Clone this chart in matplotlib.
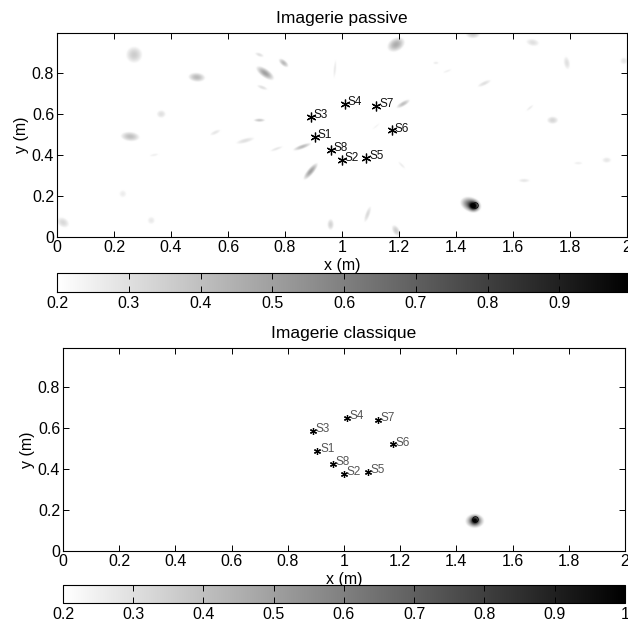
import numpy as np
import matplotlib
matplotlib.use("Agg")
import matplotlib.pyplot as plt
from matplotlib.ticker import FormatStrFormatter

plt.rcParams['font.family'] = ['Liberation Sans', 'DejaVu Sans']

# sensor positions (m)
sensor_names = ["S1", "S2", "S3", "S4", "S5", "S6", "S7", "S8"]
sensor_x = [0.905, 1.00, 0.89, 1.01, 1.085, 1.175, 1.12, 0.96]
sensor_y = [0.49, 0.375, 0.585, 0.65, 0.385, 0.52, 0.64, 0.425]

# source position
source_x = 1.465
source_y = 0.155

# passive imaging: spots
# (x, y, level, spread along, spread across, angle in degrees)
pass_x = [1.452, 1.463, 0.27, 0.49, 0.365, 0.256, 0.23, 0.02, 0.33, 0.555, 0.66, 0.34,
          1.19, 0.73, 0.795, 0.71, 0.72, 0.975, 0.71, 0.77, 0.86, 0.89, 1.215, 1.09,
          0.96, 1.19, 1.21, 1.33, 1.46, 1.67, 1.79, 1.99, 1.50, 1.37, 1.66, 1.74,
          1.93, 1.83, 1.64, 1.12, 1.10]
pass_y = [0.158, 0.15, 0.89, 0.78, 0.60, 0.49, 0.21, 0.07, 0.08, 0.51, 0.47, 0.40,
          0.94, 0.80, 0.85, 0.89, 0.73, 0.82, 0.57, 0.43, 0.44, 0.32, 0.65, 0.11,
          0.06, 0.03, 0.35, 0.85, 0.99, 0.95, 0.85, 0.86, 0.75, 0.81, 0.63, 0.57,
          0.375, 0.36, 0.275, 0.54, 0.39]
pass_lvl = [0.70, 0.60, 0.36, 0.42, 0.30, 0.40, 0.26, 0.32, 0.27, 0.28, 0.30, 0.25,
            0.46, 0.50, 0.42, 0.30, 0.30, 0.27, 0.38, 0.28, 0.42, 0.50, 0.40, 0.32,
            0.34, 0.36, 0.26, 0.26, 0.36, 0.30, 0.30, 0.28, 0.30, 0.25, 0.26, 0.33,
            0.28, 0.25, 0.28, 0.24, 0.24]
pass_sa = [0.025, 0.010, 0.028, 0.026, 0.019, 0.030, 0.019, 0.025, 0.018, 0.026, 0.039, 0.026,
           0.027, 0.029, 0.018, 0.019, 0.023, 0.043, 0.019, 0.030, 0.029, 0.029, 0.024, 0.032,
           0.020, 0.021, 0.025, 0.015, 0.024, 0.027, 0.027, 0.016, 0.030, 0.026, 0.024, 0.021,
           0.021, 0.025, 0.026, 0.030, 0.030]
pass_sc = [0.017, 0.010, 0.028, 0.014, 0.016, 0.015, 0.019, 0.018, 0.018, 0.009, 0.010, 0.008,
           0.019, 0.012, 0.009, 0.008, 0.008, 0.007, 0.006, 0.007, 0.007, 0.009, 0.008, 0.009,
           0.012, 0.012, 0.007, 0.008, 0.014, 0.015, 0.013, 0.016, 0.009, 0.007, 0.007, 0.014,
           0.013, 0.009, 0.009, 0.006, 0.006]
pass_ang = [-20, 0, 0, -5, 0, -5, 0, -30, 0, 25, 15, 10,
            30, -35, -40, -20, -20, 85, 0, 20, 20, 50, 30, 70,
            90, -60, -45, 0, 0, -10, -80, 0, 25, 20, 40, 0,
            0, 0, 0, 40, -30]

# classical imaging: halo and core of the spot at the source
clas_x = [1.466, 1.466]
clas_y = [0.145, 0.148]
clas_lvl = [0.65, 0.45]
clas_sa = [0.023, 0.009]
clas_sc = [0.017, 0.009]
clas_ang = [0, 0]

gx = np.linspace(0, 2, 800)
gy = np.linspace(0, 1, 400)
GX, GY = np.meshgrid(gx, gy)


def build_map(xs, ys, lv, sa, sc, ang, k):
    # k: how many x-metres one y-metre spans on screen
    img = np.zeros_like(GX)
    for x0, y0, a, s1, s2, t in zip(xs, ys, lv, sa, sc, ang):
        th = np.deg2rad(t)
        dx = GX - x0
        dy = (GY - y0) * k
        u = dx * np.cos(th) + dy * np.sin(th)
        v = -dx * np.sin(th) + dy * np.cos(th)
        img += a * np.exp(-0.5 * ((u / s1) ** 2 + (v / s2) ** 2))
    return np.clip(img, 0, 1)


def draw_panel(ax, cax, img, title, txt_color, msize, ylim, cticks):
    im = ax.imshow(img, extent=[0, 2, 0, 1], origin="lower", aspect="auto",
                   cmap="gray_r", vmin=0.2, vmax=1, interpolation="bilinear")
    ax.plot(sensor_x, sensor_y, linestyle="none", marker=(6, 2, 0),
            color="black", markersize=msize, markeredgewidth=0.9)
    for name, x, y in zip(sensor_names, sensor_x, sensor_y):
        ax.text(x + 0.01, y + 0.008, name, fontsize=8.5, color=txt_color,
                ha="left", va="center")
    ax.plot([source_x], [source_y], linestyle="none", marker="o", markersize=4,
            markerfacecolor="none", markeredgecolor="black", markeredgewidth=0.6)
    ax.set_xlim(0, 2)
    ax.set_ylim(0, ylim)
    ax.set_xticks(np.arange(0, 2.01, 0.2))
    ax.set_yticks(np.arange(0, 0.81, 0.2))
    ax.xaxis.set_major_formatter(FormatStrFormatter("%g"))
    ax.yaxis.set_major_formatter(FormatStrFormatter("%g"))
    ax.tick_params(direction="in", top=True, right=True, length=4, width=0.7,
                   labelsize=11.5, pad=2)
    for s in ax.spines.values():
        s.set_linewidth(0.8)
    ax.set_title(title, fontsize=12.5, pad=7.5)
    ax.set_xlabel("x (m)", fontsize=11.5, labelpad=2)
    ax.set_ylabel("y (m)", fontsize=11.5, labelpad=2)

    cb = plt.colorbar(im, cax=cax, orientation="horizontal")
    cb.set_ticks(cticks)
    cb.ax.xaxis.set_major_formatter(FormatStrFormatter("%g"))
    cax.xaxis.set_ticks_position("both")
    cax.tick_params(direction="in", length=4, width=0.7, labelsize=11.5,
                    labeltop=False, labelbottom=True, pad=3)
    cb.outline.set_linewidth(0.8)


fig = plt.figure(figsize=(6.28, 6.21), dpi=100)

ax1 = fig.add_axes([0.0908, 0.6184, 0.9076, 0.3285])
cax1 = fig.add_axes([0.0908, 0.5298, 0.914, 0.0306])
ax2 = fig.add_axes([0.1003, 0.1127, 0.8949, 0.3269])
cax2 = fig.add_axes([0.1003, 0.029, 0.8949, 0.029])

W, H = fig.get_size_inches()
k1 = (0.3285 * H) / (0.9076 * W / 2)
k2 = (0.3269 * H) / (0.8949 * W / 2)

img1 = build_map(pass_x, pass_y, pass_lvl, pass_sa, pass_sc, pass_ang, k1)
img2 = build_map(clas_x, clas_y, clas_lvl, clas_sa, clas_sc, clas_ang, k2)

draw_panel(ax1, cax1, img1, "Imagerie passive", "#111111", 7, 0.995,
           np.arange(0.2, 0.91, 0.1))
draw_panel(ax2, cax2, img2, "Imagerie classique", "#555555", 5, 0.99,
           np.arange(0.2, 1.01, 0.1))

fig.savefig("out.png", dpi=100)
